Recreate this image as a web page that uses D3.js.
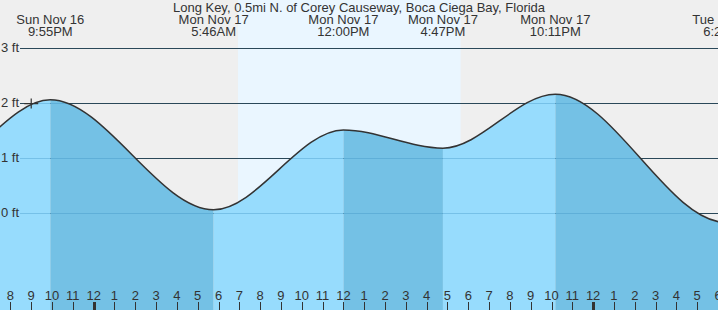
<!DOCTYPE html>
<html>
<head>
<meta charset="utf-8">
<script src="https://cdn.jsdelivr.net/npm/d3@7"></script>
<style>
  body { margin: 0; background: #efefef; }
  svg { display: block; font-family: "Liberation Sans", Arial, sans-serif; }
</style>
</head>
<body>
<div id="chart"></div>
<script>
const WIDTH = 718
const HEIGHT = 310

const title = "Long Key, 0.5mi N. of Corey Causeway, Boca Ciega Bay, Florida"

// tide extremes (local time), heights in ft; first two and last one lie outside the view
const tideTimes = ["2025-11-16T09:20", "2025-11-16T15:45", "2025-11-16T21:55", "2025-11-17T05:46", "2025-11-17T12:00",
                   "2025-11-17T16:47", "2025-11-17T22:11", "2025-11-18T06:22", "2025-11-18T12:40"]
const tideHeights = [1.60, 0.62, 2.05, 0.05, 1.50, 1.17, 2.15, -0.18, 1.50]
const tideDays = ["Sun Nov 16", "Sun Nov 16", "Sun Nov 16", "Mon Nov 17", "Mon Nov 17", "Mon Nov 17", "Mon Nov 17", "Tue Nov 18", "Tue Nov 18"]
const tideLabels = ["9:20AM", "3:45PM", "9:55PM", "5:46AM", "12:00PM", "4:47PM", "10:11PM", "6:22AM", "12:40PM"]

const sunTimes = ["2025-11-17T06:56", "2025-11-17T17:38"]   // sunrise, sunset
const nowTime = "2025-11-16T21:00"
const nowHeight = 1.98

const ftTicks = [0, 1, 2, 3]
const hourLabels = ["8", "9", "10", "11", "12", "1", "2", "3", "4", "5", "6", "7", "8", "9", "10", "11",
                    "12", "1", "2", "3", "4", "5", "6", "7", "8", "9", "10", "11", "12", "1", "2", "3", "4", "5", "6"]

const parse = s => new Date(s + ":00Z")
const tides = tideTimes.map((t, i) => ({ t: parse(t), h: tideHeights[i], day: tideDays[i], label: tideLabels[i] }))
const hours = hourLabels.map((l, i) => ({ t: new Date(parse("2025-11-16T20:00").getTime() + i * 3600e3), label: l }))

const x = d3.scaleUtc()
    .domain([parse("2025-11-16T19:30"), parse("2025-11-18T06:00")])
    .range([0, WIDTH])
const y = d3.scaleLinear().domain([0, 3]).range([212.5, 47.5])

const svg = d3.select("#chart").append("svg")
    .attr("width", WIDTH)
    .attr("height", HEIGHT)

svg.append("rect").attr("width", WIDTH).attr("height", HEIGHT).attr("fill", "#efefef")

// daylight
svg.append("rect")
    .attr("x", x(parse(sunTimes[0])))
    .attr("y", 0)
    .attr("width", x(parse(sunTimes[1])) - x(parse(sunTimes[0])))
    .attr("height", HEIGHT)
    .attr("fill", "#eaf6ff")

// grid lines (under fill)
svg.append("g").selectAll("line")
    .data(ftTicks).enter().append("line")
    .attr("x1", 20).attr("x2", WIDTH)
    .attr("y1", d => Math.round(y(d)) + 0.5).attr("y2", d => Math.round(y(d)) + 0.5)
    .attr("stroke", "#222").attr("stroke-width", 1)

const area = d3.area()
    .x(d => x(d.t))
    .y0(HEIGHT)
    .y1(d => y(d.h))
    .curve(d3.curveMonotoneX)

const line = d3.line()
    .x(d => x(d.t))
    .y(d => y(d.h))
    .curve(d3.curveMonotoneX)

const defs = svg.append("defs")
const fills = svg.append("g")
for (let i = 0; i < tides.length - 1; i++) {
    const a = tides[i], b = tides[i + 1]
    defs.append("clipPath").attr("id", "seg" + i)
        .append("rect")
        .attr("x", x(a.t)).attr("y", 0)
        .attr("width", x(b.t) - x(a.t)).attr("height", HEIGHT)
    fills.append("path")
        .datum(tides)
        .attr("d", area)
        .attr("clip-path", "url(#seg" + i + ")")
        .attr("fill", b.h > a.h ? "#97dcfd" : "#74c1e5")
}

// faint grid through the water
svg.append("g").selectAll("line")
    .data(ftTicks).enter().append("line")
    .attr("x1", 20).attr("x2", WIDTH)
    .attr("y1", d => Math.round(y(d)) + 0.5).attr("y2", d => Math.round(y(d)) + 0.5)
    .attr("stroke", "#3a8fc0").attr("stroke-opacity", 0.35)

svg.append("path")
    .datum(tides)
    .attr("d", line)
    .attr("fill", "none")
    .attr("stroke", "#333")
    .attr("stroke-width", 1.5)

// y labels
svg.append("g").selectAll("text")
    .data(ftTicks).enter().append("text")
    .attr("x", 19).attr("y", d => y(d) + 4.5)
    .attr("text-anchor", "end")
    .attr("font-size", 13)
    .attr("fill", "#333")
    .text(d => d + " ft")

// now marker
const nx = x(parse(nowTime)), ny = y(nowHeight)
svg.append("path")
    .attr("d", `M${nx - 7},${ny}H${nx + 7}M${nx},${ny - 5}V${ny + 5}`)
    .attr("stroke", "#333").attr("stroke-width", 1.2)

// header
svg.append("text")
    .attr("x", 359).attr("y", 12)
    .attr("text-anchor", "middle")
    .attr("font-size", 13)
    .attr("fill", "#333")
    .text(title)

const hdr = svg.append("g").selectAll("g")
    .data(tides.filter(d => x(d.t) > 0 && x(d.t) < WIDTH + 40)).enter().append("g")
hdr.append("text")
    .attr("x", d => x(d.t)).attr("y", 24)
    .attr("text-anchor", "middle").attr("font-size", 13).attr("fill", "#333")
    .text(d => d.day)
hdr.append("text")
    .attr("x", d => x(d.t)).attr("y", 36)
    .attr("text-anchor", "middle").attr("font-size", 13).attr("fill", "#333")
    .text(d => d.label)

// hour axis
const hx = svg.append("g").selectAll("g")
    .data(hours).enter().append("g")
hx.append("text")
    .attr("x", d => x(d.t)).attr("y", 300)
    .attr("text-anchor", "middle").attr("font-size", 13).attr("fill", "#333")
    .text(d => d.label)
hx.append("line")
    .attr("x1", d => Math.round(x(d.t)) + 0.5).attr("x2", d => Math.round(x(d.t)) + 0.5)
    .attr("y1", 302).attr("y2", HEIGHT)
    .attr("stroke", "#333")
    .attr("stroke-width", d => d.t.getUTCHours() === 0 ? 3 : 1)
</script>
</body>
</html>
